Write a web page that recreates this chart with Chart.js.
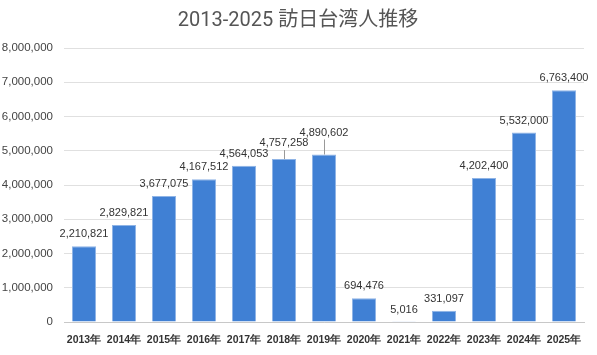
<!DOCTYPE html>
<html><head><meta charset="utf-8">
<script src="https://cdn.jsdelivr.net/npm/chart.js@4"></script>
<style>html,body{margin:0;padding:0;background:#fff}#wrap{width:597px;height:355px}</style>
</head><body><div id="wrap"><canvas id="c" width="597" height="355"></canvas></div>
<script>
const titleText = "2013-2025 訪日台湾人推移";
const categories = ["2013年","2014年","2015年","2016年","2017年","2018年","2019年","2020年","2021年","2022年","2023年","2024年","2025年"];
const visitors = [2210821,2829821,3677075,4167512,4564053,4757258,4890602,694476,5016,331097,4202400,5532000,6763400];
const yTicks = [0,1000000,2000000,3000000,4000000,5000000,6000000,7000000,8000000];
// extra lift (px) for labels that were moved to avoid overlap, drawn with a leader line
const labelLift = [0,0,0,0,0,4,10,0,0,0,0,0,0];

const fmt = v => v.toLocaleString('en-US');

const labelPlugin = {
  id:'barLabels',
  afterDatasetsDraw(chart){
    const ctx = chart.ctx;
    const meta = chart.getDatasetMeta(0);
    ctx.save();
    ctx.font = '11px "Liberation Sans", Arial, sans-serif';
    ctx.fillStyle = '#333';
    ctx.textAlign = 'center';
    ctx.textBaseline = 'middle';
    meta.data.forEach((bar,i)=>{
      const lift = labelLift[i];
      const y = bar.y - 12 - lift;
      if(lift>0){
        ctx.strokeStyle = '#999';
        ctx.lineWidth = 1;
        ctx.beginPath();
        ctx.moveTo(Math.round(bar.x)+0.5, y+7);
        ctx.lineTo(Math.round(bar.x)+0.5, bar.y);
        ctx.stroke();
      }
      ctx.fillText(fmt(visitors[i]), bar.x, y);
    });
    ctx.restore();
  }
};
const titlePlugin = {
  id:'topTitle',
  afterDraw(chart){
    const ctx = chart.ctx;
    ctx.save();
    ctx.font = '20px Roboto, "Noto Sans CJK JP", sans-serif';
    ctx.fillStyle = '#555';
    ctx.textAlign = 'center';
    ctx.textBaseline = 'middle';
    ctx.fillText(titleText, 298, 21);
    ctx.restore();
  }
};

new Chart(document.getElementById('c'), {
  type:'bar',
  data:{labels:categories, datasets:[{data:visitors, backgroundColor:'#4080d4', borderColor:'#8fb4e6', borderWidth:1, barPercentage:0.6, categoryPercentage:1}]},
  options:{
    responsive:false, animation:false, devicePixelRatio:1,
    layout:{padding:{top:48,right:13,left:0,bottom:0}},
    plugins:{legend:{display:false}, title:{display:false}, tooltip:{enabled:false}},
    scales:{
      x:{
        grid:{display:false, drawTicks:false},
        border:{display:true, color:'#c8c8c8'},
        ticks:{padding:12, color:'#333', font:{family:'"Liberation Sans", Arial, sans-serif', size:10.5, weight:'bold'}, maxRotation:0, autoSkip:false},
        afterFit(s){ s.height = 33; }
      },
      y:{
        min:0, max:8000000,
        afterBuildTicks(s){ s.ticks = yTicks.map(v=>({value:v})); },
        grid:{color:'#e0e0e0', drawTicks:false, lineWidth:1},
        border:{display:false},
        ticks:{padding:11, color:'#444', font:{family:'"Liberation Sans", Arial, sans-serif', size:11.5}, callback:v=>fmt(v)},
        afterFit(s){ s.width = 64; }
      }
    }
  },
  plugins:[labelPlugin, titlePlugin]
});
</script></body></html>
